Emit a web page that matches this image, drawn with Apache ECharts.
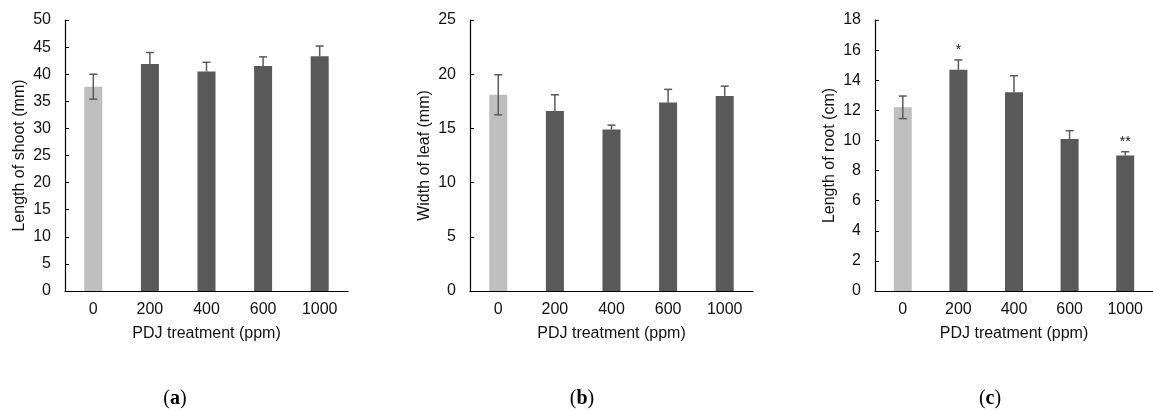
<!DOCTYPE html>
<html>
<head>
<meta charset="utf-8">
<script src="https://cdn.jsdelivr.net/npm/echarts@6/dist/echarts.min.js"></script>
<style>
  html, body { margin: 0; padding: 0; background: #fff; }
  #chart { width: 1153px; height: 412px; }
</style>
</head>
<body>
<div id="chart"></div>
<script>
const categories = ['0', '200', '400', '600', '1000']

// (a) length of shoot
const shootMean = [37.7, 41.9, 40.5, 41.5, 43.3]
const shootErr = [2.3, 2.1, 1.7, 1.7, 1.9]
// (b) width of leaf
const leafMean = [18.1, 16.6, 14.9, 17.4, 18.0]
const leafErr = [1.85, 1.5, 0.4, 1.2, 0.9]
// (c) length of root
const rootMean = [12.2, 14.7, 13.2, 10.1, 9.0]
const rootErr = [0.75, 0.65, 1.1, 0.55, 0.25]
const rootStars = ['', '*', '', '', '**']

const panels = [
  { left: 65, name: 'Length of shoot (mm)', max: 50, interval: 5, mean: shootMean, err: shootErr, stars: null, tag: 'a', tagX: 175 },
  { left: 470, name: 'Width of leaf (mm)', max: 25, interval: 5, mean: leafMean, err: leafErr, stars: null, tag: 'b', tagX: 582 },
  { left: 875, name: 'Length of root (cm)', max: 18, interval: 2, mean: rootMean, err: rootErr, stars: rootStars, tag: 'c', tagX: 990 }
]

const font = 'Arial, "Liberation Sans", sans-serif'
const serif = '"Liberation Serif", "DejaVu Serif", serif'
const textColor = '#111'
const barColor = '#595959'
const ctrlColor = '#bfbfbf'

const chart = echarts.init(document.getElementById('chart'))

const grid = []
const xAxis = []
const yAxis = []
const series = []
const graphic = []

// control bar gets the lower whisker too
const isCtrl = (x) => x === 0

panels.forEach((p, i) => {
  grid.push({ left: p.left, top: 20, width: 283, height: 271 })
  xAxis.push({
    type: 'category',
    gridIndex: i,
    data: categories,
    name: 'PDJ treatment (ppm)',
    nameLocation: 'middle',
    nameGap: 35,
    nameTextStyle: { fontFamily: font, fontSize: 16, color: textColor },
    axisLine: { lineStyle: { color: '#000', width: 1.2 } },
    axisTick: { show: false },
    axisLabel: { fontFamily: font, fontSize: 16, color: textColor, margin: 11 }
  })
  yAxis.push({
    type: 'value',
    gridIndex: i,
    min: 0,
    max: p.max,
    interval: p.interval,
    name: p.name,
    nameLocation: 'middle',
    nameGap: 37,
    nameRotate: 90,
    nameTextStyle: { fontFamily: font, fontSize: 16, color: textColor },
    axisLine: { show: true, lineStyle: { color: '#000', width: 1.2 } },
    axisTick: { show: true, inside: true, length: 4, lineStyle: { color: '#000' } },
    axisLabel: { fontFamily: font, fontSize: 16, color: textColor, margin: 14 },
    splitLine: { show: false }
  })
  series.push({
    type: 'bar',
    xAxisIndex: i,
    yAxisIndex: i,
    barWidth: 18,
    data: p.mean.map((v, j) => ({ value: v, itemStyle: { color: j === 0 ? ctrlColor : barColor } }))
  })
  const stars = p.stars
  series.push({
    type: 'custom',
    xAxisIndex: i,
    yAxisIndex: i,
    z: 5,
    data: p.mean.map((v, j) => [j, v, p.err[j]]),
    renderItem: (params, api) => {
      const x = api.value(0)
      const m = api.value(1)
      const e = api.value(2)
      const top = api.coord([x, m + e])
      const bot = api.coord([x, isCtrl(x) ? m - e : m])
      const style = { stroke: '#5a5a5a', lineWidth: 1.5 }
      const children = [
        { type: 'line', shape: { x1: top[0], y1: top[1], x2: top[0], y2: bot[1] }, style },
        { type: 'line', shape: { x1: top[0] - 4, y1: top[1], x2: top[0] + 4, y2: top[1] }, style }
      ]
      if (isCtrl(x)) {
        children.push({ type: 'line', shape: { x1: top[0] - 4, y1: bot[1], x2: top[0] + 4, y2: bot[1] }, style })
      }
      if (stars && stars[x]) {
        children.push({
          type: 'text',
          style: {
            text: stars[x], x: top[0], y: top[1] - 3,
            align: 'center', verticalAlign: 'bottom',
            fontFamily: font, fontSize: 14, fill: textColor
          }
        })
      }
      return { type: 'group', children }
    }
  })
  graphic.push({
    type: 'text',
    x: p.tagX,
    y: 399,
    style: {
      text: '({b|' + p.tag + '})',
      align: 'center',
      verticalAlign: 'middle',
      fontFamily: serif,
      fontSize: 20,
      fill: '#000',
      rich: { b: { fontWeight: 'bold', fontSize: 20, fontFamily: serif } }
    }
  })
})

chart.setOption({
  animation: false,
  grid,
  xAxis,
  yAxis,
  series,
  graphic
})
</script>
</body>
</html>
